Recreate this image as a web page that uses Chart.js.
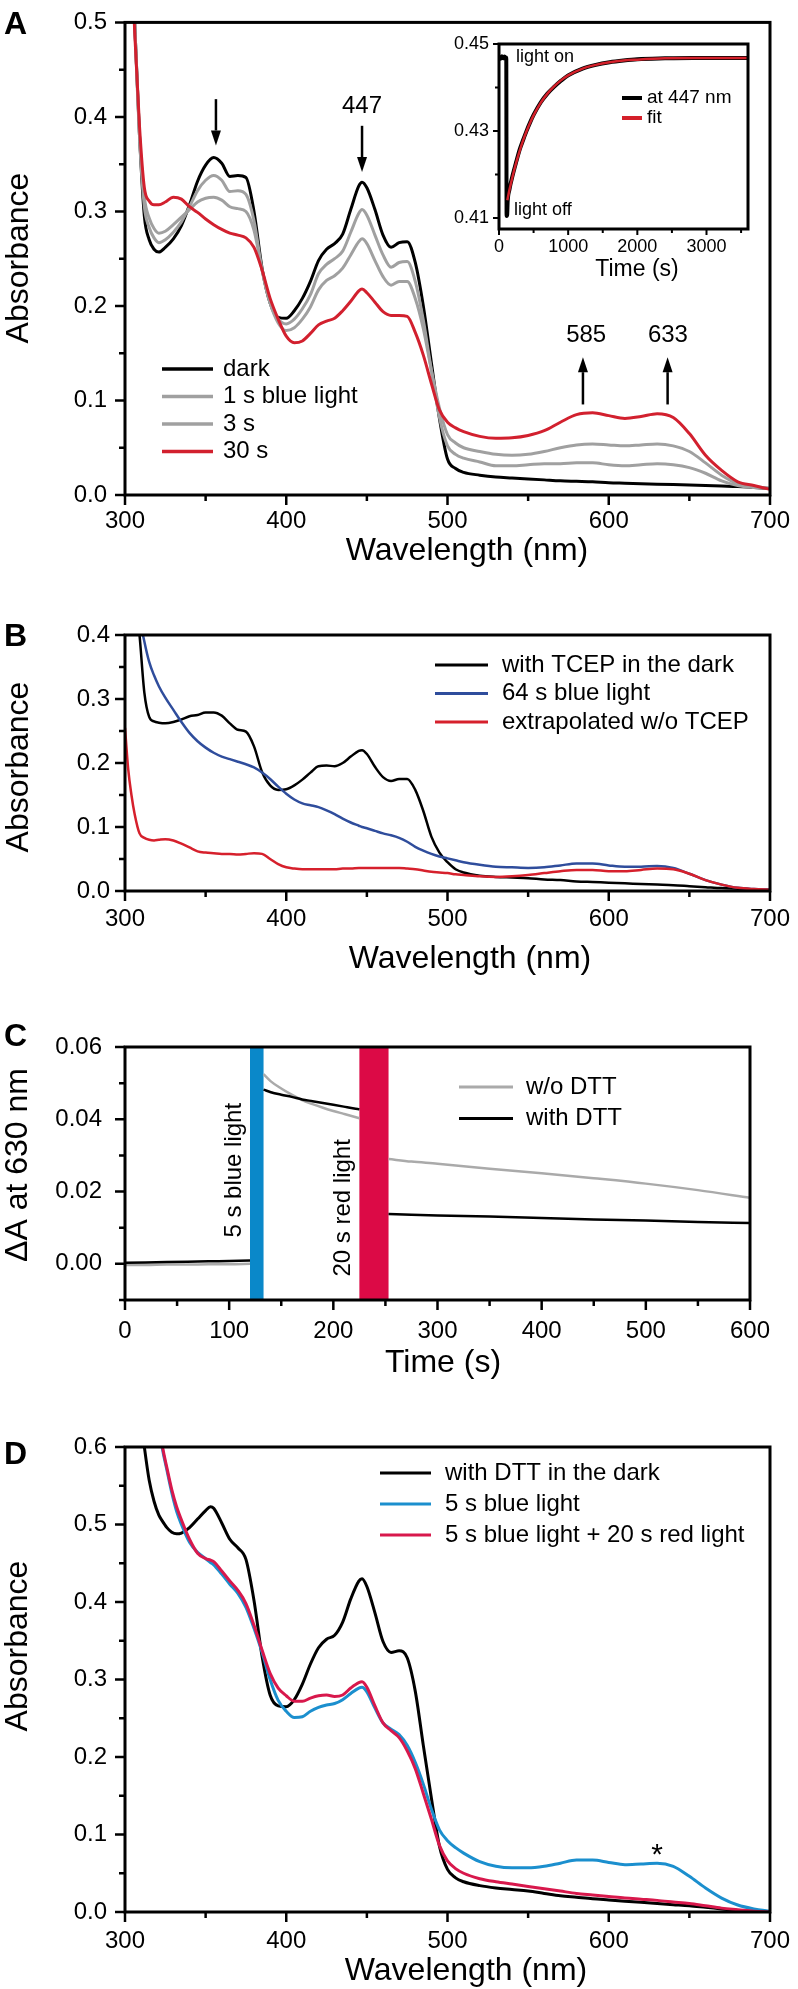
<!DOCTYPE html>
<html><head><meta charset="utf-8">
<script src="https://cdn.jsdelivr.net/npm/chart.js@4.4.0/dist/chart.umd.min.js"></script>
<style>
html,body{margin:0;padding:0;background:#fff;}
body{width:798px;height:1989px;position:relative;overflow:hidden;}
canvas{position:absolute;}
</style></head><body>
<canvas id="cA" width="798" height="575" style="left:0px;top:0px;width:798px;height:575px"></canvas>
<canvas id="cIn" width="360" height="270" style="left:420px;top:25px;width:360px;height:270px"></canvas>
<canvas id="cB" width="798" height="400" style="left:0px;top:580px;width:798px;height:400px"></canvas>
<canvas id="cC" width="798" height="400" style="left:0px;top:990px;width:798px;height:400px"></canvas>
<canvas id="cD" width="798" height="599" style="left:0px;top:1390px;width:798px;height:599px"></canvas>
<script>
// ===================== DATA =====================
// Panel A: spectra after blue light
const wlA = [300,303,306,309,312,315,318,321,325,330,335,340,345,350,355,360,365,370,375,380,385,390,395,400,405,410,415,420,425,430,435,440,445,447,450,455,460,465,470,475,480,485,490,495,500,505,510,520,530,540,550,560,570,580,590,600,610,620,630,640,650,660,670,680,690,700];
const darkA = [0.80,0.64,0.50,0.38,0.295,0.270,0.260,0.257,
  0.262,0.271,0.285,0.307,0.332,0.349,0.357,0.351,0.337,0.338,0.336,0.300,0.240,0.203,0.188,0.187,
  0.195,0.208,0.226,0.248,0.260,0.266,0.276,0.302,0.327,0.331,
  0.325,0.302,0.275,0.262,0.267,0.268,0.246,0.200,0.140,0.081,0.038,0.028,0.024,
  0.021,0.019,0.018,0.017,0.016,0.015,0.0145,0.014,0.013,
  0.0125,0.012,0.0115,0.011,0.0105,0.010,0.0095,0.009,0.008,0.007];
const s1A = [0.80,0.64,0.50,0.38,0.305,0.283,0.272,0.267,
  0.270,0.278,0.289,0.305,0.322,0.333,0.338,0.333,0.321,0.322,0.318,0.290,0.238,0.203,0.186,0.181,
  0.186,0.197,0.212,0.234,0.244,0.250,0.258,0.278,0.298,0.302,
  0.296,0.275,0.254,0.241,0.246,0.247,0.226,0.185,0.132,0.082,0.052,0.043,0.039,
  0.035,0.031,0.031,0.032,0.033,0.033,0.034,0.034,0.032,
  0.031,0.032,0.033,0.032,0.029,0.023,0.015,0.010,0.008,0.007];
const s3A = [0.80,0.64,0.50,0.38,0.315,0.293,0.282,0.277,
  0.279,0.286,0.294,0.302,0.310,0.314,0.315,0.312,0.305,0.303,0.300,0.280,0.238,0.203,0.182,0.174,
  0.177,0.186,0.199,0.217,0.227,0.232,0.240,0.254,0.268,0.271,
  0.266,0.248,0.231,0.222,0.226,0.226,0.208,0.176,0.132,0.092,0.064,0.055,0.050,
  0.046,0.043,0.042,0.043,0.046,0.050,0.053,0.054,0.053,
  0.052,0.053,0.054,0.052,0.046,0.034,0.021,0.012,0.009,0.007];
const s30A = [0.80,0.62,0.49,0.39,0.325,0.311,0.307,0.307,
  0.310,0.315,0.313,0.305,0.299,0.292,0.286,0.281,0.277,0.275,0.272,0.262,0.238,0.208,0.186,0.168,
  0.161,0.163,0.171,0.180,0.184,0.187,0.195,0.205,0.216,0.218,
  0.214,0.204,0.194,0.190,0.190,0.189,0.172,0.148,0.118,0.090,0.077,0.071,0.067,
  0.062,0.060,0.0605,0.063,0.068,0.077,0.085,0.087,0.084,
  0.081,0.083,0.086,0.082,0.065,0.042,0.026,0.014,0.010,0.006];

// Inset: absorbance at 447 nm vs time
const tIn = [0,20,40,60,80,100,105,110,118,125,150,200,250,300,350,400,450,500,600,700,800,900,1000,1200,1400,1600,1800,2000,2400,2800,3200,3600];
const at447In = [0.4470,0.4466,0.4472,0.4467,0.4471,0.4468,0.4469,0.4105,0.4108,0.4138,0.4165,0.4200,0.4230,0.4258,0.4280,0.4301,0.4320,0.4337,0.4365,0.4386,0.4402,0.4416,0.4428,0.4443,0.4452,0.4458,0.4462,0.4465,0.4467,0.4468,0.4468,0.4468];
const tFit = [120,150,200,250,300,350,400,450,500,600,700,800,900,1000,1200,1400,1600,1800,2000,2400,2800,3200,3600];
const fitIn = [0.4141,0.4164,0.4198,0.4228,0.4255,0.4279,0.4300,0.4319,0.4336,0.4364,0.4386,0.4403,0.4417,0.4428,0.4443,0.4452,0.4458,0.4462,0.4464,0.4467,0.4468,0.4468,0.4468];

// Panel B
const wlB = [300,302,304,306,309,312,315,318,321,325,330,335,340,345,350,355,360,365,370,375,380,385,390,395,400,405,410,415,420,425,430,435,440,445,447,450,455,460,465,470,475,480,485,490,495,500,505,510,520,530,540,550,560,570,580,590,600,610,620,630,640,650,660,670,680,690,700];
const tcepDarkB = [0.80,0.66,0.55,0.47,0.40,0.31,0.272,0.265,0.263,
  0.262,0.264,0.268,0.273,0.275,0.279,0.279,0.274,0.262,0.252,0.249,0.226,0.186,0.165,0.158,0.159,
  0.165,0.174,0.185,0.195,0.196,0.195,0.200,0.210,0.219,0.220,
  0.214,0.194,0.178,0.172,0.175,0.175,0.158,0.125,0.085,0.060,0.045,0.034,0.029,
  0.024,0.022,0.021,0.020,0.018,0.017,0.015,0.014,0.013,
  0.012,0.011,0.010,0.009,0.0075,0.006,0.0045,0.0035,0.0025,0.002];
const blue64B = [0.80,0.70,0.60,0.50,0.43,0.39,0.358,0.337,0.320,
  0.302,0.283,0.264,0.247,0.234,0.224,0.216,0.210,0.206,0.202,0.198,0.193,0.185,0.175,0.163,0.152,
  0.143,0.137,0.134,0.131,0.126,0.120,0.113,0.107,0.102,0.100,
  0.098,0.094,0.090,0.087,0.083,0.077,0.069,0.063,0.058,0.054,0.051,0.048,0.045,
  0.041,0.038,0.037,0.036,0.037,0.040,0.043,0.043,0.040,
  0.038,0.038,0.039,0.036,0.027,0.017,0.010,0.005,0.003,0.002];
const extrapB = [0.255,0.19,0.15,0.12,0.09,0.083,0.080,0.079,0.080,
  0.081,0.079,0.074,0.068,0.062,0.060,0.059,0.058,0.058,0.057,0.058,0.059,0.058,0.050,0.042,0.037,
  0.035,0.034,0.034,0.034,0.034,0.034,0.035,0.035,0.036,0.036,
  0.036,0.036,0.036,0.036,0.036,0.035,0.034,0.032,0.030,0.029,0.028,0.026,0.025,
  0.023,0.022,0.023,0.025,0.028,0.031,0.033,0.033,0.031,
  0.031,0.033,0.035,0.034,0.027,0.017,0.010,0.005,0.003,0.002];

// Panel C: delta A at 630 nm vs time (null = light pulse gap)
const tC = [0,20,40,60,80,100,120,126,133,140,150,160,170,180,190,200,210,220,225,239,253,275,300,350,400,450,500,550,600];
const noDttC = [-0.0003,-0.0003,-0.0002,-0.0002,-0.0001,-0.0001,0.0000,null,
  0.0525,0.0505,0.0485,0.0468,0.0453,0.0442,0.0432,0.0423,0.0415,0.0407,0.0403,null,
  0.0290,0.0283,0.0277,0.0263,0.0251,0.0237,0.0222,0.0204,0.0183];
const dttC = [0.0003,0.0004,0.0005,0.0006,0.0007,0.0008,0.0009,null,
  0.0482,0.0475,0.0468,0.0462,0.0455,0.0450,0.0445,0.0440,0.0435,0.0430,0.0428,null,
  0.0138,0.0136,0.0134,0.0131,0.0127,0.0123,0.0120,0.0116,0.0113];
const blueLightC = [120, 133];
const redLightC = [225, 253];

// Panel D
const wlD = [300,305,309,312,315,318,321,323,326,329,332,335,340,345,350,353,355,360,365,370,375,380,385,390,395,400,405,410,415,420,425,430,435,440,445,447,450,455,460,465,470,475,480,485,490,495,500,505,510,520,530,540,550,560,570,580,590,600,610,620,630,640,650,660,670,680,690,700];
const dttDarkD = [0.95,0.75,0.65,0.60,0.557,0.530,0.512,0.505,0.496,0.490,0.488,0.489,
  0.496,0.507,0.518,0.523,
  0.521,0.502,0.481,0.470,0.455,0.402,0.330,0.280,0.266,0.265,
  0.274,0.294,0.320,0.341,0.352,0.357,0.374,0.404,0.427,0.430,
  0.420,0.386,0.349,0.335,0.337,0.328,0.285,0.215,0.147,0.085,0.055,0.044,0.039,
  0.034,0.031,0.029,0.027,0.024,0.021,0.019,0.017,0.0155,
  0.014,0.0125,0.011,0.0095,0.008,0.006,0.004,0.002,0.001,0.0];
const blue5D = [1.0,0.9,0.82,0.76,0.72,0.68,0.63,0.60,0.57,0.541,0.517,0.500,
  0.477,0.464,0.456,0.451,
  0.448,0.436,0.423,0.411,0.393,0.366,0.335,0.300,0.273,0.259,
  0.251,0.252,0.259,0.264,0.267,0.269,0.274,0.282,0.289,0.290,
  0.284,0.263,0.244,0.236,0.229,0.215,0.193,0.165,0.133,0.106,0.092,0.083,0.076,
  0.065,0.059,0.057,0.057,0.059,0.063,0.067,0.067,0.064,
  0.061,0.062,0.063,0.059,0.046,0.031,0.018,0.009,0.004,0.001];
const blueRedD = [1.0,0.9,0.82,0.76,0.72,0.68,0.63,0.603,0.573,0.545,0.523,0.506,
  0.481,0.463,0.456,0.454,
  0.452,0.440,0.427,0.415,0.398,0.370,0.338,0.308,0.289,0.279,
  0.272,0.272,0.276,0.279,0.280,0.278,0.280,0.289,0.296,0.297,
  0.290,0.266,0.244,0.234,0.225,0.208,0.185,0.153,0.120,0.086,0.066,0.056,0.050,
  0.043,0.039,0.036,0.033,0.030,0.027,0.024,0.022,0.020,
  0.018,0.0165,0.015,0.013,0.011,0.008,0.005,0.003,0.001,0.0];

// ===================== HELPERS =====================
const FONT = "'Liberation Sans', Arial, Helvetica, sans-serif";
Chart.defaults.font.family = FONT;
Chart.defaults.color = '#000';
function F(size, bold){ return (bold ? 'bold ' : '') + size + 'px ' + FONT; }
function pts(xs, ys){ return xs.map((x, i) => ({x: x, y: ys[i]})); }
function ds(label, xs, ys, color, width, order){
  return {label, data: pts(xs, ys), borderColor: color, backgroundColor: color, borderWidth: width,
    pointRadius: 0, pointHoverRadius: 0, fill: false, cubicInterpolationMode: 'monotone', spanGaps: false, order};
}
function range(a, b, s){ const n = Math.round((b - a) / s); const r = []; for (let i = 0; i <= n; i++) r.push(+(a + i * s).toFixed(9)); return r; }
function isMult(v, origin, step){ const r = (v - origin) / step; return Math.abs(r - Math.round(r)) < 1e-6; }
function fmt(v, d){ return (Math.abs(v) < 1e-12 ? 0 : v).toFixed(d); }

function drawArrow(ctx, x, y1, y2){
  const dir = y2 > y1 ? 1 : -1, hl = 15, hw = 5;
  ctx.lineWidth = 2.5;
  ctx.beginPath(); ctx.moveTo(x, y1); ctx.lineTo(x, y2 - dir * hl); ctx.stroke();
  ctx.beginPath(); ctx.moveTo(x, y2); ctx.lineTo(x - hw, y2 - dir * hl); ctx.lineTo(x + hw, y2 - dir * hl); ctx.closePath(); ctx.fill();
}

// decoration config per canvas (page coordinates for legend/titles; data coordinates for annotations)
const decorCfg = {
  cA: { top: 0, left: 0, frame: 3, tickW: 2.5, major: 10, minor: 6,
    legend: {x1: 162, x2: 213, tx: 223, ys: [369, 396.5, 424, 451.5], fs: 24, lw: 3.5, order: [0,1,2,3]},
    arrows: [{x: 356.4, from: 0.4188, to: 0.3698}, {x: 447, from: 0.3906, to: 0.3417}, {x: 584, from: 0.0958, to: 0.1458}, {x: 636.5, from: 0.0958, to: 0.1458}],
    texts: [{t: '447', x: 447, y: 0.4115, fs: 24}, {t: '585', x: 586, y: 0.169, fs: 24}, {t: '633', x: 636.7, y: 0.169, fs: 24}],
    titles: [{t: 'Absorbance', x: 28, y: 258, fs: 32, rot: true}, {t: 'Wavelength (nm)', x: 467, y: 560, fs: 32},
             {t: 'A', x: 4, y: 34, fs: 32, bold: true, align: 'left'}] },
  cIn: { top: 25, left: 420, frame: 3, tickW: 2, major: 6, minor: 4,
    legend: {x1: 622, x2: 642, tx: 647, ys: [98, 118], fs: 19, lw: 4, order: [0,1]},
    texts: [{t: 'light on', x: 246, y: 0.4470, fs: 18, align: 'left'}, {t: 'light off', x: 217, y: 0.4118, fs: 18, align: 'left'}],
    titles: [{t: 'Time (s)', x: 637, y: 276, fs: 23}] },
  cB: { top: 580, left: 0, frame: 3, tickW: 2.5, major: 10, minor: 6,
    legend: {x1: 435, x2: 488, tx: 502, ys: [665, 693.5, 722], fs: 24, lw: 3, order: [0,1,2]},
    titles: [{t: 'Absorbance', x: 28, y: 767, fs: 32, rot: true}, {t: 'Wavelength (nm)', x: 470, y: 968, fs: 32},
             {t: 'B', x: 4, y: 646, fs: 32, bold: true, align: 'left'}] },
  cC: { top: 990, left: 0, frame: 3, tickW: 2.5, major: 10, minor: 6,
    bands: [{range: blueLightC, color: '#0a88c9'}, {range: redLightC, color: '#dc0a46'}],
    legend: {x1: 459, x2: 513, tx: 526, ys: [1087, 1118.5], fs: 24, lw: 3, order: [0,1]},
    texts: [{t: '5 s blue light', x: 111.5, y: 0.0259, fs: 24, rot: true}, {t: '20 s red light', x: 216, y: 0.0155, fs: 24, rot: true}],
    titles: [{t: '\u0394A at 630 nm', x: 27, y: 1165, fs: 32, rot: true}, {t: 'Time (s)', x: 443, y: 1372, fs: 32},
             {t: 'C', x: 4, y: 1046, fs: 32, bold: true, align: 'left'}] },
  cD: { top: 1390, left: 0, frame: 3, tickW: 2.5, major: 10, minor: 6,
    legend: {x1: 380, x2: 431, tx: 445, ys: [1473, 1504, 1535], fs: 24, lw: 3, order: [0,1,2]},
    texts: [{t: '*', x: 630, y: 0.062, fs: 30, base: 'alphabetic'}],
    titles: [{t: 'Absorbance', x: 27, y: 1646, fs: 32, rot: true}, {t: 'Wavelength (nm)', x: 466, y: 1980, fs: 32},
             {t: 'D', x: 4, y: 1464, fs: 32, bold: true, align: 'left'}] }
};

const decor = {
  id: 'decor',
  beforeDatasetsDraw(chart){
    const o = decorCfg[chart.canvas.id];
    if (!o || !o.bands) return;
    const {ctx, chartArea: a, scales: {x}} = chart;
    ctx.save();
    o.bands.forEach(b => {
      const x1 = x.getPixelForValue(b.range[0]), x2 = x.getPixelForValue(b.range[1]);
      ctx.fillStyle = b.color; ctx.fillRect(x1, a.top, x2 - x1, a.bottom - a.top);
    });
    ctx.restore();
  },
  afterDraw(chart){
    const o = decorCfg[chart.canvas.id];
    const {ctx, chartArea: a, scales: {x, y}} = chart;
    const ox = o.left, oy = o.top;
    ctx.save();
    ctx.strokeStyle = '#000'; ctx.fillStyle = '#000';
    ctx.lineWidth = o.tickW;
    ctx.beginPath();
    x.ticks.forEach(t => { const p = x.getPixelForValue(t.value); const L = t.label === '' ? o.minor : o.major; ctx.moveTo(p, a.bottom); ctx.lineTo(p, a.bottom + L); });
    y.ticks.forEach(t => { const p = y.getPixelForValue(t.value); const L = t.label === '' ? o.minor : o.major; ctx.moveTo(a.left, p); ctx.lineTo(a.left - L, p); });
    ctx.stroke();
    ctx.lineWidth = o.frame;
    ctx.strokeRect(a.left, a.top, a.right - a.left, a.bottom - a.top);
    if (o.legend) {
      const L = o.legend;
      L.order.forEach((di, k) => {
        const d = chart.data.datasets[di]; const yy = L.ys[k] - oy;
        ctx.strokeStyle = d.borderColor; ctx.lineWidth = L.lw;
        ctx.beginPath(); ctx.moveTo(L.x1 - ox, yy); ctx.lineTo(L.x2 - ox, yy); ctx.stroke();
        ctx.fillStyle = '#000'; ctx.font = F(L.fs); ctx.textAlign = 'left'; ctx.textBaseline = 'middle';
        ctx.fillText(d.label, L.tx - ox, yy);
      });
    }
    ctx.strokeStyle = '#000'; ctx.fillStyle = '#000';
    (o.arrows || []).forEach(ar => drawArrow(ctx, x.getPixelForValue(ar.x), y.getPixelForValue(ar.from), y.getPixelForValue(ar.to)));
    (o.texts || []).forEach(t => {
      const px = x.getPixelForValue(t.x), py = y.getPixelForValue(t.y);
      ctx.font = F(t.fs, t.bold);
      if (t.rot) {
        ctx.save(); ctx.translate(px, py); ctx.rotate(-Math.PI / 2);
        ctx.textAlign = 'center'; ctx.textBaseline = 'alphabetic'; ctx.fillText(t.t, 0, 0); ctx.restore();
      } else {
        ctx.textAlign = t.align || 'center'; ctx.textBaseline = t.base || 'middle'; ctx.fillText(t.t, px, py);
      }
    });
    (o.titles || []).forEach(t => {
      ctx.font = F(t.fs, t.bold);
      const px = t.x - ox, py = t.y - oy;
      if (t.rot) {
        ctx.save(); ctx.translate(px, py); ctx.rotate(-Math.PI / 2);
        ctx.textAlign = 'center'; ctx.textBaseline = 'alphabetic'; ctx.fillText(t.t, 0, 0); ctx.restore();
      } else {
        ctx.textAlign = t.align || 'center'; ctx.textBaseline = 'alphabetic'; ctx.fillText(t.t, px, py);
      }
    });
    ctx.restore();
  }
};

function makeChart(id, datasets, s){
  const grid = {display: true, drawOnChartArea: false, drawTicks: true, tickLength: s.tl, color: 'rgba(0,0,0,0)'};
  return new Chart(document.getElementById(id), {
    type: 'line',
    data: {datasets},
    options: {
      responsive: false, animation: false, devicePixelRatio: 1, events: [],
      layout: {padding: {left: 0, top: s.padTop, right: s.padRight, bottom: 0}},
      plugins: {legend: {display: false}, tooltip: {enabled: false}, title: {display: false}},
      scales: {
        x: {type: 'linear', min: s.x[0], max: s.x[1],
          afterBuildTicks: sc => { sc.ticks = range(s.xt[0], s.xt[1], s.xt[2]).map(v => ({value: v})); },
          afterFit: sc => { sc.height = s.xh; },
          grid, border: {display: false},
          ticks: {autoSkip: false, maxRotation: 0, minRotation: 0, padding: s.xpad, color: '#000', font: {size: s.fs, family: FONT},
            callback: v => isMult(v, s.xl[0], s.xl[1]) ? fmt(v, s.xl[2]) : ''}},
        y: {type: 'linear', min: s.y[0], max: s.y[1],
          afterBuildTicks: sc => { sc.ticks = range(s.yt[0], s.yt[1], s.yt[2]).map(v => ({value: v})); },
          afterFit: sc => { sc.width = s.yw; },
          grid, border: {display: false},
          ticks: {autoSkip: false, padding: s.ypad, color: '#000', font: {size: s.fs, family: FONT},
            callback: v => isMult(v, s.yl[0], s.yl[1]) ? fmt(v, s.yl[2]) : ''}}
      }
    },
    plugins: [decor]
  });
}

// ===================== CHARTS =====================
const GRAY = '#a0a0a0';
makeChart('cA', [
  ds('dark', wlA, darkA, '#000000', 3, 3),
  ds('1 s blue light', wlA, s1A, GRAY, 3, 2),
  ds('3 s', wlA, s3A, GRAY, 3, 1),
  ds('30 s', wlA, s30A, '#d2202e', 3, 0)
], {padTop: 15, padRight: 28, xh: 80, yw: 125, tl: 10, xpad: 2, ypad: 8, fs: 24,
    x: [300, 700], xt: [300, 700, 50], xl: [0, 100, 0], y: [0, 0.5], yt: [0, 0.5, 0.05], yl: [0, 0.1, 1]});

makeChart('cIn', [
  ds('at 447 nm', tIn, at447In, '#000000', 4, 1),
  ds('fit', tFit, fitIn, '#d4202a', 2.5, 0)
], {padTop: 19, padRight: 32, xh: 66, yw: 79, tl: 6, xpad: 1, ypad: 4, fs: 18,
    x: [0, 3600], xt: [0, 3500, 500], xl: [0, 1000, 0], y: [0.4075, 0.45], yt: [0.41, 0.45, 0.01], yl: [0.41, 0.02, 2]});

makeChart('cB', [
  ds('with TCEP in the dark', wlB, tcepDarkB, '#000000', 2.5, 2),
  ds('64 s blue light', wlB, blue64B, '#2f4d9c', 2.5, 1),
  ds('extrapolated w/o TCEP', wlB, extrapB, '#d6202c', 2.5, 0)
], {padTop: 55, padRight: 28, xh: 89, yw: 125, tl: 10, xpad: 4, ypad: 5, fs: 24,
    x: [300, 700], xt: [300, 700, 50], xl: [0, 100, 0], y: [0, 0.4], yt: [0, 0.4, 0.05], yl: [0, 0.1, 1]});

makeChart('cC', [
  ds('w/o DTT', tC, noDttC, '#aaaaaa', 2.5, 1),
  ds('with DTT', tC, dttC, '#000000', 2.5, 0)
], {padTop: 57, padRight: 48, xh: 90, yw: 125, tl: 10, xpad: 7, ypad: 13, fs: 24,
    x: [0, 600], xt: [0, 600, 50], xl: [0, 100, 0], y: [-0.01, 0.06], yt: [-0.01, 0.06, 0.01], yl: [0, 0.02, 2]});

makeChart('cD', [
  ds('with DTT in the dark', wlD, dttDarkD, '#000000', 3, 2),
  ds('5 s blue light', wlD, blue5D, '#1b8fce', 3, 1),
  ds('5 s blue light + 20 s red light', wlD, blueRedD, '#d8184c', 3, 0)
], {padTop: 57, padRight: 28, xh: 77, yw: 125, tl: 10, xpad: 5, ypad: 8, fs: 24,
    x: [300, 700], xt: [300, 700, 50], xl: [0, 100, 0], y: [0, 0.6], yt: [0, 0.6, 0.05], yl: [0, 0.1, 1]});
</script>
</body></html>
